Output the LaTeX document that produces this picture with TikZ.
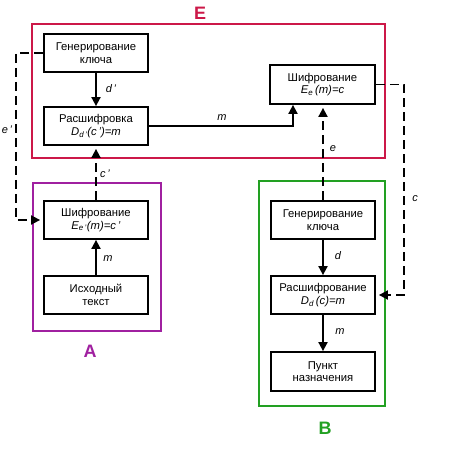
\documentclass[tikz,border=0pt]{standalone}
\usepackage{fontspec}
\setmainfont{Liberation Sans}
\usetikzlibrary{arrows.meta}
\definecolor{eframe}{HTML}{CC1848}
\definecolor{aframe}{HTML}{A020A0}
\definecolor{bframe}{HTML}{22A022}
\begin{document}
\begin{tikzpicture}[x=1pt,y=-1pt,
  blk/.style={draw=black,line width=1.8pt,fill=white,minimum width=104pt,minimum height=38pt,inner sep=1pt,align=center,font=\fontsize{11.3}{12.5}\selectfont},
  frm/.style={line width=1.4pt},
  conn/.style={line width=1.8pt,-{Triangle[length=9pt,width=9pt]}},
  dconn/.style={conn,dash pattern=on 9pt off 5pt,shorten >=3pt},
  lbl/.style={font=\fontsize{11}{12}\selectfont\itshape,inner sep=0pt},
  big/.style={font=\fontsize{18}{20}\selectfont\bfseries,inner sep=0pt}]
\useasboundingbox (0,0) rectangle (460,452);
% frames
\draw[frm,eframe] (32,24) rectangle (385,158);
\draw[frm,aframe] (33,183) rectangle (161,331);
\draw[frm,bframe] (259,181) rectangle (385,406);
\node[big,text=eframe] (labE) at (200,13) {E};
\node[big,text=aframe] (labA) at (90,351) {A};
\node[big,text=bframe] (labB) at (325,428) {B};
% blocks
\node[blk] (genE) at (96,53) {Генерирование\\ключа};
\node[blk] (decE) at (96,126) {Расшифровка\\\textit{D\textsubscript{d\,'}(c\,')=m}};
\node[blk,minimum width=105pt,minimum height=39pt] (encE) at (322.5,84.5) {Шифрование\\\textit{E\textsubscript{e}\,(m)=c}};
\node[blk] (encA) at (96,220) {Шифрование\\\textit{E\textsubscript{e\,'}(m)=c\,'}};
\node[blk] (srcA) at (96,295) {Исходный\\текст};
\node[blk] (genB) at (323,220) {Генерирование\\ключа};
\node[blk] (decB) at (323,295) {Расшифрование\\\textit{D\textsubscript{d}\,(c)=m}};
\node[blk,minimum height=39pt] (dstB) at (323,371.5) {Пункт\\назначения};
% coordinates
\coordinate (mturn) at (293,126);
\coordinate (eL1) at (16,53);
\coordinate (eL2) at (16,220);
\coordinate (cR1) at (404,84.5);
\coordinate (cR2) at (404,295);
% connectors
\draw[conn] (genE) -- (decE);
\draw[conn] (decE.east) -- (mturn) -- (mturn |- encE.south);
\draw[conn] (srcA) -- (encA);
\draw[dconn] (encA) -- (decE);
\draw[dconn] (genE.west) -- (eL1) -- (eL2) -- (encA.west);
\draw[dconn] (genB.north) -- (genB.north |- encE.south);
\draw[dconn] (encE.east) -- (cR1) -- (cR2) -- (decB.east);
\draw[conn] (genB) -- (decB);
\draw[conn] (decB) -- (dstB);
% labels
\node[lbl] (ld1) at (111,89) {d\,'};
\node[lbl] (lm1) at (222,118) {m};
\node[lbl] (le1) at (333,149) {e};
\node[lbl] (lc1) at (105,174) {c\,'};
\node[lbl] (le2) at (7,130) {e\,'};
\node[lbl] (lm2) at (108,259) {m};
\node[lbl] (lc2) at (415,199) {c};
\node[lbl] (ld2) at (338,256) {d};
\node[lbl] (lm3) at (340,332) {m};
\end{tikzpicture}
\end{document}
